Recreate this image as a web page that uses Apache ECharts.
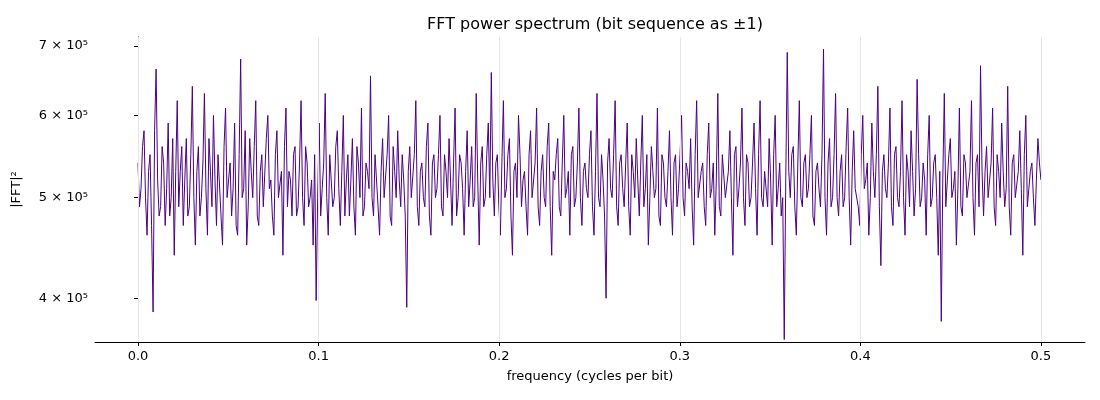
<!DOCTYPE html>
<html><head><meta charset="utf-8">
<script src="https://cdn.jsdelivr.net/npm/echarts@6/dist/echarts.min.js"></script>
<style>html,body{margin:0;background:#fff}#c{width:1100px;height:400px}</style>
</head><body><div id="c"></div>
<script>
// power values in units of 1e5, evenly spaced from f=0 to f=0.5 (even samples)
const powerA = [
5.4,5.1,5.8,4.6,5.5,3.88,6.65,4.8,5.6,4.7,5.9,5.0,4.4,6.2,5.3,4.7,5.7,4.9,6.4,4.5,
5.6,5.0,6.3,4.6,5.3,6.0,4.7,5.5,4.5,6.1,5.2,4.8,5.9,4.6,6.8,5.1,4.5,5.7,5.0,6.2,
4.7,5.5,4.9,6.0,5.2,4.6,5.8,5.0,4.4,6.1,5.3,4.8,5.6,4.9,6.2,4.7,5.4,5.0,4.5,3.98,
5.9,5.1,6.3,4.6,5.5,5.0,5.8,4.7,6.0,5.2,4.8,5.7,4.6,5.4,6.1,4.9,5.3,6.55,4.8,5.5,
4.6,5.7,5.0,6.0,4.7,5.3,5.8,4.9,5.2,3.92,5.6,5.0,6.2,4.7,5.4,4.9,5.9,4.6,5.5,5.1,
6.0,4.8,5.3,5.7,4.7,6.1,5.0,5.4,4.6,5.8,5.2,4.9,6.3,4.5,5.6,5.0,5.9,6.6,4.8,5.5,
4.6,6.2,5.1,5.7,4.4,5.4,6.0,4.9,5.3,4.6,5.8,5.0,6.1,4.7,5.5,4.9,5.9,4.4,5.2,5.7,
4.8,6.0,5.1,4.6,5.6,5.0,6.1,4.7,5.4,5.0,5.8,4.6,6.3,4.9,5.2,4.0,5.7,5.0,6.2,4.7,
5.5,4.9,5.9,4.6,5.3,5.7,4.8,6.0,5.1,4.5,5.6,5.0,6.1,4.7,5.4,4.9,5.8,4.6,5.5,5.1,
6.0,4.8,5.3,5.7,4.5,6.2,5.0,5.4,4.7,5.9,5.1,4.6,6.3,4.8,5.5,5.0,5.8,4.4,5.6,5.1,
6.1,4.7,5.4,5.0,5.9,4.6,6.2,4.9,5.3,5.7,4.5,6.0,5.1,4.8,3.65,6.9,5.0,5.6,4.6,6.2,
4.9,5.5,5.1,6.0,4.7,5.4,4.9,6.95,4.6,5.7,5.0,6.3,4.8,5.5,5.0,6.1,4.5,5.8,5.1,4.7,
6.0,5.2,4.6,5.9,5.0,6.4,4.3,5.5,5.0,6.1,4.7,5.6,4.9,6.2,4.6,5.3,5.8,4.8,6.5,4.9,
5.4,4.6,6.0,5.0,5.5,4.4,3.8,6.3,4.9,5.7,5.1,4.5,6.1,4.8,5.4,5.0,6.2,4.6,5.5,6.7,
4.8,5.6,5.0,6.1,4.7,5.3,5.9,4.9,6.4,4.6,5.5,5.0,5.8,4.4,6.0,5.1,5.4,4.7,5.7,5.2
];
// odd samples, between the even ones
const powerB = [
4.9,5.6,5.0,5.3,4.7,5.8,5.2,4.9,5.4,5.1,4.8,5.7,5.3,4.9,5.6,5.2,4.8,5.5,5.0,5.3,
4.8,5.4,5.1,5.7,4.9,5.2,5.5,4.8,5.6,5.0,5.4,5.1,4.7,5.5,5.0,5.8,4.9,5.3,5.6,4.8,
5.3,4.9,5.7,5.1,4.8,5.5,5.0,5.3,5.6,4.9,5.2,5.5,4.8,5.4,5.0,5.6,4.9,5.2,5.5,5.0,
4.8,5.4,5.0,5.5,4.9,5.6,5.1,5.3,4.8,5.5,5.2,4.9,5.6,5.0,4.8,5.4,5.1,5.0,5.5,4.9,
5.3,5.0,5.5,4.8,5.6,5.0,5.2,5.5,4.8,5.3,5.0,5.5,4.9,5.3,5.0,5.6,4.8,5.4,5.0,5.5,
4.9,5.5,5.0,5.2,5.4,4.8,5.5,5.1,5.3,4.9,5.6,5.0,5.2,5.4,4.9,5.5,5.0,5.2,5.4,4.9,
5.4,5.0,5.5,4.8,5.3,5.0,5.5,5.2,4.9,5.5,5.0,5.4,4.9,5.3,5.0,5.6,4.9,5.3,5.5,4.9,
5.4,5.0,5.3,5.5,4.9,5.4,5.0,5.3,5.1,5.5,4.9,5.3,5.0,5.5,4.8,5.4,5.1,5.5,4.9,5.4,
5.1,5.4,4.9,5.5,5.0,5.2,5.4,4.9,5.5,5.0,5.3,5.1,4.8,5.5,5.0,5.3,5.0,5.4,4.9,5.5,
5.0,5.4,5.1,4.9,5.5,5.0,5.3,4.9,5.5,5.0,5.4,5.2,4.9,5.5,5.0,5.3,5.0,5.5,4.9,5.4,
5.0,5.5,4.9,5.4,5.1,5.5,5.0,5.3,4.9,5.2,5.5,4.9,5.4,5.0,5.2,5.3,5.5,4.9,5.4,5.0,
5.4,5.0,5.5,4.8,5.3,5.1,5.5,5.0,5.4,4.9,5.5,5.0,5.3,4.9,5.6,5.0,5.3,5.1,4.9,5.5,
5.1,5.4,5.0,5.3,5.5,4.9,5.3,5.1,5.4,4.9,5.5,5.0,5.3,5.0,5.5,4.9,5.3,5.1,5.5,5.0,
5.2,5.5,4.9,5.4,5.0,5.3,5.2,4.9,5.5,5.0,5.3,5.1,4.9,5.5,5.0,5.3,5.0,5.4,4.9,5.3,
5.3,5.0,5.4,4.9,5.5,5.0,5.3,5.1,4.9,5.4,5.0,5.3,5.1,5.5,4.9,5.3,5.0,5.2,5.4
];
const fMax = 0.5;
const xTicks = [0, 0.1, 0.2, 0.3, 0.4, 0.5];
const yTicks = [4, 5, 6, 7];

const chart = echarts.init(document.getElementById('c'));
const merged = [];
powerA.forEach((v, i) => { merged.push(v); if (i < powerB.length) merged.push(powerB[i]); });
const n = merged.length;
const pts = merged.map((v, i) => [i / (n - 1) * fMax, Math.log(v)]);
const yTickLn = yTicks.map(v => Math.log(v));
const font = { fontFamily: 'DejaVu Sans', fontSize: 13, color: '#000' };

chart.setOption({
  animation: false,
  title: {
    text: 'FFT power spectrum (bit sequence as ±1)', left: 590, top: 12, textAlign: 'center',
    textStyle: { fontFamily: 'DejaVu Sans', fontSize: 16, fontWeight: 'normal', color: '#000' }
  },
  grid: { left: 95, right: 15, top: 37, bottom: 58 },
  xAxis: {
    type: 'value', min: -0.0238, max: 0.5244,
    name: 'frequency (cycles per bit)', nameLocation: 'middle', nameGap: 28,
    nameTextStyle: font,
    axisLine: { lineStyle: { color: '#000' } },
    axisTick: { customValues: xTicks, length: 4, lineStyle: { color: '#000' } },
    axisLabel: Object.assign({ customValues: xTicks, margin: 8, formatter: v => v.toFixed(1) }, font),
    splitLine: { show: false }
  },
  yAxis: {
    type: 'value', min: Math.log(3.63), max: Math.log(7.14),
    name: '|FFT|²', nameLocation: 'middle', nameGap: 72, nameRotate: 90,
    nameTextStyle: font,
    axisLine: { show: true, lineStyle: { color: '#000' } },
    axisTick: { show: true, customValues: yTickLn, length: 4, lineStyle: { color: '#000' } },
    axisLabel: Object.assign({ customValues: yTickLn, margin: 7,
      formatter: v => Math.round(Math.exp(v)) + ' × 10⁵' }, font),
    splitLine: { show: false }
  },
  series: [
    {
      type: 'line', data: [], silent: true, z: 1,
      markLine: {
        silent: true, symbol: 'none', label: { show: false },
        lineStyle: { color: '#e6e6e6', type: 'solid', width: 1 },
        data: xTicks.map(x => ({ xAxis: x }))
      }
    },
    {
      type: 'line', data: pts, showSymbol: false, z: 3,
      lineStyle: { color: '#4b0082', width: 1 }
    }
  ]
});
</script></body></html>
